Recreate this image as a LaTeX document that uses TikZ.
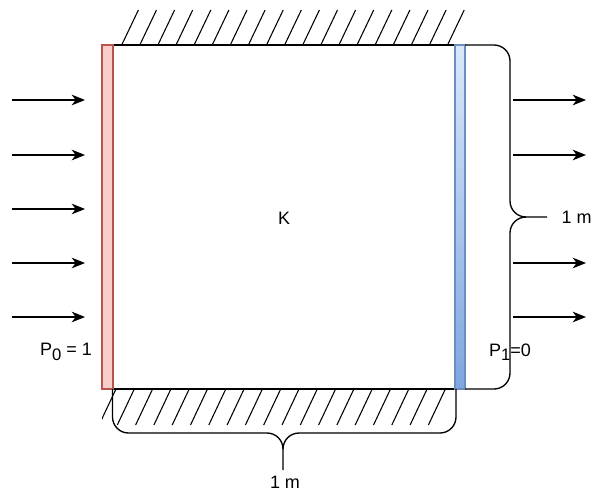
\documentclass[tikz,border=0pt]{standalone}
\usepackage{fontspec}
\setmainfont{Liberation Sans}
\usetikzlibrary{arrows.meta}
\definecolor{redfill}{HTML}{F8CECC}
\definecolor{redline}{HTML}{B85450}
\definecolor{bluefill}{HTML}{DAE8FC}
\definecolor{bluedark}{HTML}{7EA6E0}
\definecolor{blueline}{HTML}{6C8EBF}
\begin{document}
\begin{tikzpicture}[x=0.75pt,y=-0.75pt,line width=0.9pt,
  flow/.style={line width=0.9pt,-{Stealth[length=10pt,width=8pt,inset=3pt]}},
  wall/.style={line width=1pt},
  hatch/.style={line width=0.8pt},
  brace/.style={line width=1pt,rounded corners=12pt},
  lbl/.style={font=\fontsize{13.5}{16}\selectfont,inner sep=0pt}]
\useasboundingbox (0,0) rectangle (596,493);

% hatching above the top wall
\foreach \i in {0,...,18}
  \draw[hatch] (121.7+18.1*\i,45) -- ++(16.7,-35);
% hatching below the bottom wall
\begin{scope}
  \clip (102,389) rectangle (456,426);
  \foreach \i in {0,...,18}
    \draw[hatch] (116+18.3*\i,389) -- ++(-17,36);
\end{scope}

% walls
\coordinate (tl) at (113,45);
\coordinate (tr) at (455,45);
\coordinate (bl) at (113,389);
\coordinate (br) at (455,389);
\draw[wall] (tl) -- (tr);
\draw[wall] (bl) -- (br);

% inlet (red) and outlet (blue) bars
\path[draw=redline,fill=redfill,line width=0.9pt] (102,45) rectangle (113,389);
\shade[top color=bluefill,bottom color=bluedark] (455,45) rectangle (465,389);
\draw[blueline,line width=0.9pt] (455,45) rectangle (465,389);

% right brace
\coordinate (rb1) at (465,45);
\coordinate (rb2) at (465,389);
\coordinate (rtip) at (547,217);
\draw[brace] (rb1) -- (510,45) -- (510,217) -- (rtip);
\draw[brace] (rb2) -- (510,389) -- (510,217) -- (522,217);

% bottom brace
\coordinate (bb1) at (112.5,389);
\coordinate (bb2) at (456,389);
\coordinate (btip) at (283,470);
\draw[brace] (bb1) -- (112.5,433) -- (283,433) -- (btip);
\draw[brace] (bb2) -- (456,433) -- (283,433) -- (283,446);

% labels
\node[lbl] (K) at (284,218) {K};
\node[lbl,anchor=west] (rlen) at (561,217) {1 m};
\node[lbl] (blen) at (285,482) {1 m};
\node[lbl] (p0) at (66,352) {P\raisebox{-0.45ex}{\fontsize{12.5}{14}\selectfont 0} = 1};
\node[lbl] (p1) at (510,352) {P\raisebox{-0.45ex}{\fontsize{12.5}{14}\selectfont 1}=0};

% inflow arrows
\foreach \y [count=\n] in {100,155,209,263,317}{
  \coordinate (ls\n) at (12,\y);
  \coordinate (le\n) at (85,\y);
  \draw[flow] (ls\n) -- (le\n);
}
% outflow arrows
\foreach \y [count=\n] in {100,155,263,317}{
  \coordinate (rs\n) at (513,\y);
  \coordinate (re\n) at (586,\y);
  \draw[flow] (rs\n) -- (re\n);
}
\end{tikzpicture}
\end{document}
